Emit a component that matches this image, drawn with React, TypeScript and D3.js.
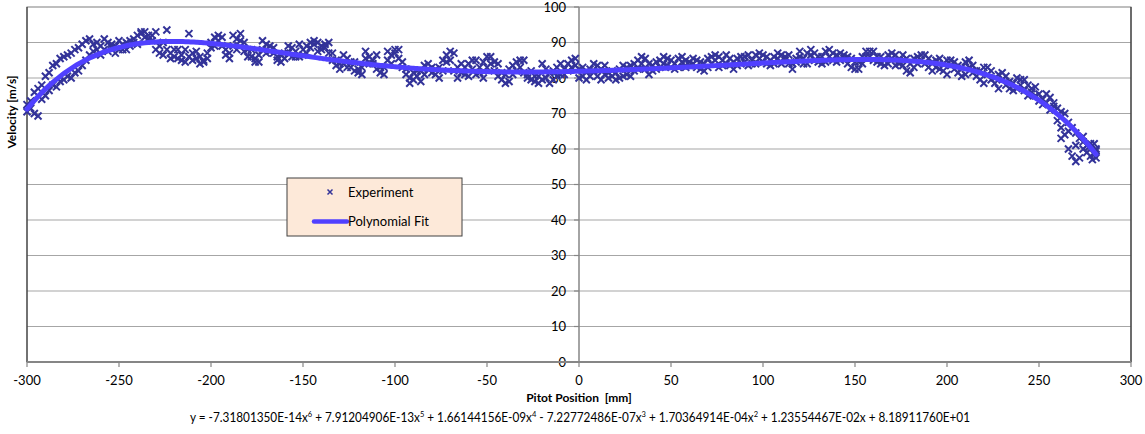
import React from "react";
import * as d3 from "d3";

// Pass A: traverse at 2 mm steps [position mm, velocity m/s]
const passA: [number, number][] = [
  [-300, 70.5], [-298, 71.5], [-296, 70], [-294, 69.3], [-292, 74], [-290, 75], [-288, 76.5], [-286, 78], [-284, 77.5], [-282, 79],
  [-280, 79.5], [-278, 80.5], [-276, 80], [-274, 81.5], [-272, 82], [-270, 83.5], [-268, 85], [-266, 86.5], [-264, 87.5], [-262, 88],
  [-260, 89], [-258, 88], [-256, 87.5], [-254, 88.5], [-252, 89], [-250, 88], [-248, 89.5], [-246, 90], [-244, 89], [-242, 91],
  [-240, 92], [-238, 92.5], [-236, 91.5], [-234, 92], [-232, 90.5], [-230, 88], [-228, 87], [-226, 86.5], [-224, 88], [-222, 87],
  [-220, 86], [-218, 85.5], [-216, 86.5], [-214, 88], [-212, 86], [-210, 85], [-208, 85.5], [-206, 86], [-204, 85], [-202, 87],
  [-200, 90], [-198, 91.5], [-196, 90.5], [-194, 89], [-192, 88], [-190, 87], [-188, 89], [-186, 91], [-184, 90.5], [-182, 90],
  [-180, 88], [-178, 86], [-176, 85.5], [-174, 86.5], [-172, 88], [-170, 89.5], [-168, 89], [-166, 87], [-164, 86], [-162, 86.5],
  [-160, 85.5], [-158, 87], [-156, 88.5], [-154, 87.5], [-152, 86], [-150, 88], [-148, 89], [-146, 88.5], [-144, 89.5], [-142, 90],
  [-140, 89], [-138, 88.5], [-136, 87], [-134, 85], [-132, 83.5], [-130, 82.5], [-128, 84], [-126, 85.5], [-124, 83], [-122, 82],
  [-120, 81.5], [-118, 83], [-116, 85.5], [-114, 86], [-112, 84], [-110, 82.5], [-108, 81.5], [-106, 83], [-104, 85], [-102, 86.5],
  [-100, 87], [-98, 85.5], [-96, 83], [-94, 81], [-92, 80], [-90, 79.5], [-88, 80.5], [-86, 82], [-84, 83.5], [-82, 82.5],
  [-80, 81.5], [-78, 81], [-76, 83], [-74, 85], [-72, 86.5], [-70, 85], [-68, 82], [-66, 80], [-64, 81.5], [-62, 83],
  [-60, 84], [-58, 82.5], [-56, 81], [-54, 83], [-52, 84.5], [-50, 86], [-48, 84], [-46, 82], [-44, 80.5], [-42, 79.5],
  [-40, 81], [-38, 82.5], [-36, 83.5], [-34, 84.5], [-32, 83], [-30, 81.5], [-28, 80], [-26, 79.5], [-24, 79], [-22, 78.5],
  [-20, 79.5], [-18, 80], [-16, 81.5], [-14, 82], [-12, 83], [-10, 81], [-8, 82.5], [-6, 84], [-4, 85], [-2, 83.5],
  [0, 82.5], [2, 80.5], [4, 79.5], [6, 80.5], [8, 82], [10, 83.5], [12, 82.5], [14, 81], [16, 80], [18, 80.5],
  [20, 81.5], [22, 82.5], [24, 80.5], [26, 81], [28, 83.5], [30, 84], [32, 85], [34, 84], [36, 82.5], [38, 81],
  [40, 83.5], [42, 84.5], [44, 85], [46, 84], [48, 83.5], [50, 85], [52, 84], [54, 83], [56, 84.5], [58, 85],
  [60, 83.5], [62, 84], [64, 83], [66, 82.5], [68, 84], [70, 85.5], [72, 84], [74, 85], [76, 86], [78, 85],
  [80, 84], [82, 83.5], [84, 84.5], [86, 85.5], [88, 86], [90, 84.5], [92, 83.5], [94, 85], [96, 86.5], [98, 85.5],
  [100, 84.5], [102, 86], [104, 85], [106, 84], [108, 85.5], [110, 86.5], [112, 85], [114, 84], [116, 82.5], [118, 84.5],
  [120, 86], [122, 85.5], [124, 87], [126, 86.5], [128, 85], [130, 84.5], [132, 86], [134, 87.5], [136, 86], [138, 85],
  [140, 86.5], [142, 87], [144, 85.5], [146, 84], [148, 83], [150, 82.5], [152, 84.5], [154, 86], [156, 87.5], [158, 86],
  [160, 85], [162, 84.5], [164, 86], [166, 85], [168, 84], [170, 85.5], [172, 86.5], [174, 85], [176, 83.5], [178, 82],
  [180, 84], [182, 85.5], [184, 86], [186, 85], [188, 84], [190, 85.5], [192, 84.5], [194, 83], [196, 82.5], [198, 84],
  [200, 85], [202, 83.5], [204, 82.5], [206, 81.5], [208, 83], [210, 84.5], [212, 83], [214, 81.5], [216, 80.5], [218, 82],
  [220, 83], [222, 81], [224, 79.5], [226, 80], [228, 81], [230, 79.5], [232, 78], [234, 77], [236, 78.5], [238, 80],
  [240, 78], [242, 76.5], [244, 75], [246, 76], [248, 77.5], [250, 75.5], [252, 74], [254, 73], [256, 74.5], [258, 73],
  [260, 71.5], [262, 70.5], [264, 70], [266, 67.5], [268, 66], [270, 64.5], [272, 63], [274, 62], [276, 61], [278, 60],
  [280, 59],
];

// Pass B: return traverse at 4 mm steps
const passB: [number, number][] = [
  [-300, 72.5], [-296, 76], [-292, 78], [-288, 81.5], [-284, 84], [-280, 86], [-276, 87], [-272, 88.5], [-268, 90.5], [-264, 89.5],
  [-260, 86.5], [-256, 90], [-252, 87], [-248, 88], [-244, 90.5], [-240, 89.5], [-236, 93], [-232, 92], [-228, 89], [-224, 93.5],
  [-220, 88], [-216, 85], [-212, 92.5], [-208, 87.5], [-204, 84.5], [-200, 88.5], [-196, 92], [-192, 86.5], [-188, 92], [-184, 92.5],
  [-180, 86], [-176, 84.5], [-172, 90.5], [-168, 87.5], [-164, 85], [-160, 87], [-156, 86], [-152, 89.5], [-148, 87], [-144, 90.5],
  [-140, 88], [-136, 90], [-132, 85], [-128, 86.5], [-124, 84.5], [-120, 82.5], [-116, 87.5], [-112, 85], [-108, 83], [-104, 87.5],
  [-100, 88], [-96, 84.5], [-92, 78.5], [-88, 82], [-84, 81], [-80, 83], [-76, 80], [-72, 84.5], [-68, 87], [-64, 84],
  [-60, 80.5], [-56, 85], [-52, 80], [-48, 86], [-44, 84], [-40, 78.5], [-36, 81], [-32, 85], [-28, 81], [-24, 80.5],
  [-20, 84], [-16, 78.5], [-12, 80.5], [-8, 81], [-4, 83], [0, 80], [4, 82], [8, 84], [12, 79.5], [16, 81.5],
  [20, 79.5], [24, 83.5], [28, 80.5], [32, 82.5], [36, 85.5], [40, 82], [44, 83], [48, 85.5], [52, 82.5], [56, 86],
  [60, 84.5], [64, 85], [68, 82], [72, 86], [76, 83], [80, 86.5], [84, 82.5], [88, 84], [92, 86.5], [96, 84],
  [100, 86.5], [104, 83.5], [108, 87], [112, 86], [116, 84], [120, 87.5], [124, 84], [128, 87], [132, 84], [136, 88],
  [140, 84.5], [144, 86.5], [148, 85.5], [152, 82.5], [156, 86], [160, 87.5], [164, 84], [168, 86.5], [172, 83.5], [176, 86.5],
  [180, 81.5], [184, 84], [188, 86.5], [192, 82], [196, 85.5], [200, 81], [204, 84.5], [208, 80.5], [212, 85], [216, 82],
  [220, 78.5], [224, 82], [228, 77], [232, 80.5], [236, 76.5], [240, 79.5], [244, 78], [248, 75], [252, 72.5], [256, 71],
  [260, 68], [262, 66], [264, 64], [266, 60], [268, 58], [270, 56.5], [272, 57.5], [274, 60], [276, 59], [278, 61.5],
  [280, 58.5], [281, 60], [281, 57.5],
];

// Pass C: repeat traverse at 4 mm steps, offset by 2 mm
const passC: [number, number][] = [
  [-298, 73.5], [-294, 77], [-290, 80.5], [-286, 83.5], [-282, 85.5], [-278, 86.5], [-274, 88], [-270, 89.5], [-266, 91], [-262, 90],
  [-258, 91], [-254, 89.5], [-250, 90.5], [-246, 88], [-242, 90], [-238, 93], [-234, 91], [-230, 93], [-226, 90], [-222, 85.5],
  [-218, 88], [-214, 84.5], [-210, 87], [-206, 84], [-202, 85.5], [-198, 89], [-194, 91.5], [-190, 85.5], [-186, 88], [-182, 87.5],
  [-178, 88], [-174, 84.5], [-170, 87], [-166, 88.5], [-162, 84.5], [-158, 89], [-154, 86], [-150, 86.5], [-146, 90], [-142, 87.5],
  [-138, 89.5], [-134, 87], [-130, 84], [-126, 83], [-122, 84.5], [-118, 81], [-114, 84], [-110, 86.5], [-106, 81], [-102, 84],
  [-98, 88], [-94, 82.5], [-90, 81.5], [-86, 79], [-82, 84], [-78, 82.5], [-74, 82], [-70, 87.5], [-66, 83], [-62, 81],
  [-58, 85], [-54, 81.5], [-50, 83], [-46, 84.5], [-42, 81.5], [-38, 79], [-34, 82], [-30, 85], [-26, 82], [-22, 80.5],
  [-18, 82.5], [-14, 79.5], [-10, 84], [-6, 82], [-2, 85.5], [2, 83], [6, 82.5], [10, 80.5], [14, 83.5], [18, 82],
  [22, 80], [26, 83], [30, 82], [34, 86], [38, 84], [42, 82.5], [46, 86], [50, 83], [54, 85.5], [58, 83],
  [62, 85.5], [66, 84.5], [70, 83], [74, 86.5], [78, 83.5], [82, 85.5], [86, 83.5], [90, 86], [94, 84], [98, 87],
  [102, 84], [106, 86], [110, 84], [114, 86.5], [118, 85.5], [122, 84], [126, 88], [130, 86], [134, 84.5], [138, 87],
  [142, 85], [146, 86], [150, 84.5], [154, 84], [158, 87.5], [162, 86], [166, 83.5], [170, 87], [174, 84], [178, 85.5],
  [182, 83], [186, 86.5], [190, 83], [194, 85], [198, 82], [202, 85], [206, 83.5], [210, 81], [214, 83.5], [218, 79.5],
  [222, 83], [226, 78.5], [230, 81.5], [234, 79], [238, 77], [242, 79.5], [246, 77], [250, 73.5], [254, 75.5], [258, 72],
  [262, 63], [266, 65], [270, 61], [274, 63.5], [278, 58], [280, 61.5], [279, 57], [281, 59.5], [277, 60.5],
];

// Polynomial fit coefficients, highest power first (x^6 ... x^0)
const fitCoefficients = [
  -7.31801350e-14, 7.91204906e-13, 1.66144156e-9, -7.22772486e-7, 1.70364914e-4, 1.23554467e-2, 8.18911760e1,
];

const xTicks = [-300, -250, -200, -150, -100, -50, 0, 50, 100, 150, 200, 250, 300];
const yTicks = [0, 10, 20, 30, 40, 50, 60, 70, 80, 90, 100];
// Equation parts: [text, superscript]
const equationParts: [string, string][] = [
  ["y = -7.31801350E-14x", "6"],
  [" + 7.91204906E-13x", "5"],
  [" + 1.66144156E-09x", "4"],
  [" - 7.22772486E-07x", "3"],
  [" + 1.70364914E-04x", "2"],
  [" + 1.23554467E-02x + 8.18911760E+01", ""],
];

const W = 1145;
const H = 434;
const FONT = "Lato, 'Noto Sans', sans-serif";

export default function App() {
  const left = 27, right = 1131, top = 7, bottom = 362;
  const x = d3.scaleLinear().domain([-300, 300]).range([left, right]);
  const y = d3.scaleLinear().domain([0, 100]).range([bottom, top]);

  const poly = (v: number) => fitCoefficients.reduce((acc, c) => acc * v + c, 0);
  const all = [...passA, ...passB, ...passC];
  const fitXs = Array.from(new Set(all.map((d) => d[0]))).sort((a, b) => a - b);
  const line = d3
    .line<number>()
    .x((d) => x(d))
    .y((d) => y(poly(d)))
    .curve(d3.curveMonotoneX);

  const markerColor = "#333399";
  const fitColor = "#5040FF";
  const cross = "M-3.5,-3.5L3.5,3.5M-3.5,3.5L3.5,-3.5";

  const eqSpans: React.ReactNode[] = [];
  let prevSup = false;
  equationParts.forEach(([t, s], i) => {
    eqSpans.push(
      <tspan key={`t${i}`} dy={prevSup ? 5 : 0}>
        {t}
      </tspan>
    );
    if (s) {
      eqSpans.push(
        <tspan key={`s${i}`} fontSize={8} dy={-5}>
          {s}
        </tspan>
      );
    }
    prevSup = !!s;
  });

  return (
    <svg width={W} height={H} style={{ position: "absolute", left: 0, top: 0, background: "#fff" }} fontFamily={FONT}>
      <rect x={0} y={0} width={W} height={H} fill="#fff" />
      {yTicks.filter((t) => t > 0 && t < 100).map((t) => (
        <line key={t} x1={left} x2={right} y1={y(t)} y2={y(t)} stroke="#A6A6A6" strokeWidth={1.2} />
      ))}
      <rect x={left} y={top} width={right - left} height={bottom - top} fill="none" stroke="#7F7F7F" strokeWidth={1} />
      <line x1={left} x2={left} y1={top} y2={bottom} stroke="#262626" strokeWidth={1} />
      <line x1={right} x2={right} y1={top} y2={bottom} stroke="#404040" strokeWidth={1.3} />
      <line x1={x(0)} x2={x(0)} y1={top} y2={bottom} stroke="#868686" strokeWidth={1.5} />
      {yTicks.map((t) => (
        <g key={t}>
          <line x1={x(0) - 5} x2={x(0)} y1={y(t)} y2={y(t)} stroke="#868686" strokeWidth={1.2} />
          <text x={x(0) - 13} y={y(t) + 4.5} textAnchor="end" fontSize={13} fill="#000">
            {t}
          </text>
        </g>
      ))}
      <line x1={left} x2={right} y1={bottom} y2={bottom} stroke="#868686" strokeWidth={2} />
      {xTicks.map((t) => (
        <g key={t}>
          <line x1={x(t)} x2={x(t)} y1={bottom} y2={bottom + 5} stroke="#868686" strokeWidth={1.2} />
          <text x={x(t)} y={bottom + 23} textAnchor="middle" fontSize={13} fill="#000">
            {t}
          </text>
        </g>
      ))}
      <g stroke={markerColor} strokeWidth={2} fill="none">
        {all.map((d, i) => (
          <path key={i} d={cross} transform={`translate(${x(d[0])},${y(d[1])})`} />
        ))}
      </g>
      <path d={line(fitXs) || ""} fill="none" stroke={fitColor} strokeWidth={5} strokeLinecap="round" />
      <rect x={287} y={178} width={175} height={58} fill="#FDE9D9" stroke="#404040" strokeWidth={1} />
      <path d="M-2.5,-2.5L2.5,2.5M-2.5,2.5L2.5,-2.5" transform="translate(330,192)" stroke={markerColor} strokeWidth={1.5} fill="none" />
      <text x={348} y={196.5} fontSize={13} fill="#000">Experiment</text>
      <line x1={314} x2={347} y1={221.5} y2={221.5} stroke={fitColor} strokeWidth={4.5} strokeLinecap="round" />
      <text x={348} y={226} fontSize={13} fill="#000">Polynomial Fit</text>
      <text x={x(0)} y={402} textAnchor="middle" fontSize={12} fontWeight="bold" fill="#000" xmlSpace="preserve">
        {"Pitot Position  [mm]"}
      </text>
      <text transform="translate(16,112) rotate(-90)" textAnchor="middle" fontSize={12} fontWeight="bold" fill="#000">
        Velocity [m/s]
      </text>
      <text x={190} y={422} fontSize={12.5} fill="#000" textLength={780} lengthAdjust="spacingAndGlyphs" xmlSpace="preserve">
        {eqSpans}
      </text>
    </svg>
  );
}
